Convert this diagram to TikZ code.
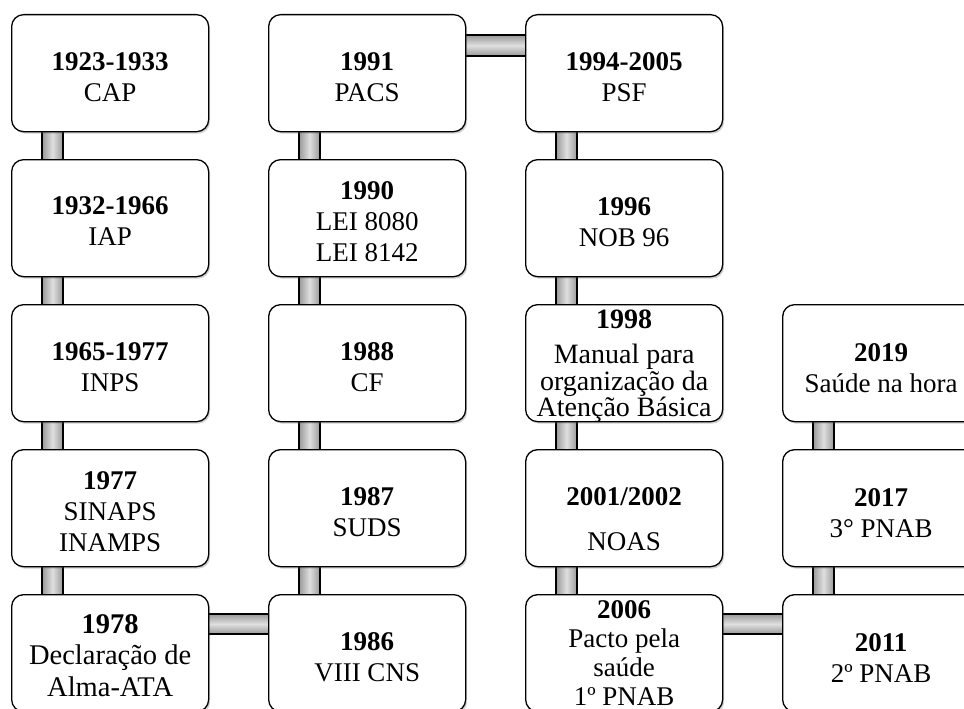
\documentclass[tikz,border=0pt]{standalone}
\usepackage{fontspec}
\setmainfont{Liberation Serif}
\usetikzlibrary{shadows,calc}
\pgfdeclarelayer{bg}
\pgfsetlayers{bg,main}
\begin{document}
\begin{tikzpicture}[x=1pt,y=-1pt,
  box/.style={draw=black, line width=1.3pt, rounded corners=12pt, fill=white,
    minimum width=197pt, minimum height=117pt, inner sep=0pt, anchor=north west,
    drop shadow={shadow xshift=1.5pt, shadow yshift=-2pt, opacity=0.3, fill=black!60}},
  txt/.style={anchor=north, inner sep=0pt, align=center, font=\fontsize{27}{31}\selectfont},
  vcon/.style={draw=black, line width=1.3pt, left color=gray!80, right color=gray!80, middle color=gray!25},
  hcon/.style={draw=black, line width=1.3pt, top color=gray!80, bottom color=gray!80, middle color=gray!25},
]
\useasboundingbox (0,0) rectangle (964,709);
\clip (0,0) rectangle (964,709);

% boxes
\foreach \c/\x in {1/11,2/268,3/525}{
  \foreach \r/\y in {1/14,2/159,3/304,4/449,5/594}{
    \node[box] (b\r\c) at (\x,\y) {};
  }
}
\foreach \r/\y in {3/304,4/449,5/594}{
  \node[box] (b\r4) at (782,\y) {};
}

% connectors
\begin{pgfonlayer}{bg}
\foreach \c in {1,2,3}{
  \foreach \r/\s in {1/2,2/3,3/4,4/5}{
    \path[vcon] ($(b\r\c.south west)+(31,-2)$) rectangle ($(b\s\c.north west)+(52,2)$);
  }
}
\foreach \r/\s in {3/4,4/5}{
  \path[vcon] ($(b\r4.south west)+(31,-2)$) rectangle ($(b\s4.north west)+(52,2)$);
}
\path[hcon] ($(b51.north east)+(-2,20)$) rectangle ($(b52.north west)+(2,40)$);
\path[hcon] ($(b12.north east)+(-2,21)$) rectangle ($(b13.north west)+(2,42)$);
\path[hcon] ($(b53.north east)+(-2,20)$) rectangle ($(b54.north west)+(2,40)$);
\end{pgfonlayer}

% texts
\node[txt] (t11) at ($(b11.north)+(0,38)$) {\textbf{1923-1933}\\CAP};
\node[txt] (t21) at ($(b21.north)+(0,37)$) {\textbf{1932-1966}\\IAP};
\node[txt] (t31) at ($(b31.north)+(0,38)$) {\textbf{1965-1977}\\INPS};
\node[txt] (t41) at ($(b41.north)+(0,22)$) {\textbf{1977}\\SINAPS\\INAMPS};
\node[txt, font=\fontsize{28.5}{31.5}\selectfont] (t51) at ($(b51.north)+(0,20)$)
  {\textbf{1978}\\Declaração de\\Alma-ATA};

\node[txt] (t12) at ($(b12.north)+(0,38)$) {\textbf{1991}\\PACS};
\node[txt] (t22) at ($(b22.north)+(0,22)$) {\textbf{1990}\\LEI 8080\\LEI 8142};
\node[txt] (t32) at ($(b32.north)+(0,38)$) {\textbf{1988}\\CF};
\node[txt] (t42) at ($(b42.north)+(0,38)$) {\textbf{1987}\\SUDS};
\node[txt] (t52) at ($(b52.north)+(0,38)$) {\textbf{1986}\\VIII CNS};

\node[txt] (t13) at ($(b13.north)+(0,38)$) {\textbf{1994-2005}\\PSF};
\node[txt] (t23) at ($(b23.north)+(0,38)$) {\textbf{1996}\\NOB 96};
\node[txt, font=\fontsize{28}{24}\selectfont] (t33) at ($(b33.north)+(0,6)$)
  {\textbf{1998}\\[11pt]Manual para\\organização da\\Atenção Básica};
\node[txt] (t43) at ($(b43.north)+(0,38)$) {\textbf{2001/2002}\\[14pt]NOAS};
\node[txt, font=\fontsize{27}{29}\selectfont] (t53) at ($(b53.north)+(0,6)$)
  {\textbf{2006}\\Pacto pela\\saúde\\1º PNAB};

\node[txt] (t34) at ($(b34.north)+(0,39)$) {\textbf{2019}\\Saúde na hora};
\node[txt] (t44) at ($(b44.north)+(0,39)$) {\textbf{2017}\\3° PNAB};
\node[txt] (t54) at ($(b54.north)+(0,39)$) {\textbf{2011}\\2º PNAB};
\end{tikzpicture}
\end{document}
